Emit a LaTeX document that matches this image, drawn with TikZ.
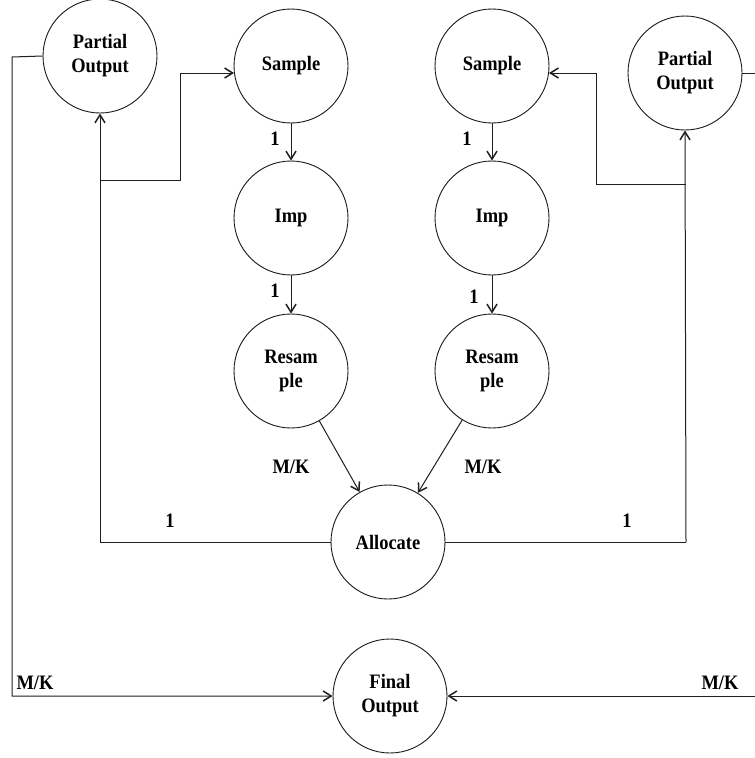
\documentclass[tikz,border=0pt]{standalone}
\usepackage{fontspec}
\setmainfont{Liberation Serif}[FakeStretch=0.9]
\usetikzlibrary{arrows.meta}
\begin{document}
\begin{tikzpicture}[x=1pt,y=-1pt,
  proc/.style={circle,draw=black!90,line width=0.9pt,minimum size=114pt,inner sep=0pt,
    align=center,font=\fontsize{20.5}{24}\selectfont\bfseries},
  flow/.style={draw=black!88,line width=1pt},
  arr/.style={flow,-{Straight Barb[length=8pt,width=10pt,line width=1.5pt]}},
  lbl/.style={font=\fontsize{20.5}{24}\selectfont\bfseries,inner sep=0pt}]
\clip (0,0) rectangle (755,758);
\fill[white] (0,0) rectangle (755,758);
% processing nodes
\node[proc] (poL) at (100,56) {Partial\\Output};
\node[proc] (saL) at (291,66) {Sample};
\node[proc] (imL) at (291,218) {Imp};
\node[proc] (reL) at (291,371) {Resam\\ple};
\node[proc] (saR) at (492,66) {Sample};
\node[proc] (imR) at (492,218) {Imp};
\node[proc] (reR) at (492,371) {Resam\\ple};
\node[proc] (poR) at (685,73) {Partial\\Output};
\node[proc] (al) at (388,542) {Allocate};
\node[proc] (fo) at (390,696) {Final\\Output};
% junctions
\coordinate (jL) at (100,180);
\coordinate (jR) at (686,184);
\coordinate (aL) at (100,542);
\coordinate (aR) at (686,542);
\coordinate (oL) at (12,57);
\coordinate (oR) at (770,73);
% vertical chains
\draw[arr] (saL) -- (imL);
\draw[arr] (imL) -- (reL);
\draw[arr] (saR) -- (imR);
\draw[arr] (imR) -- (reR);
\draw[arr] (reL) -- (al);
\draw[arr] (reR) -- (al);
% allocate feedback to partial outputs
\draw[flow] (al.west) -- (aL);
\draw[arr] (aL) -- (poL.south);
\draw[flow] (al.east) -- (aR);
\draw[arr] (aR) -- (poR.south);
% feedback to samplers
\draw[arr] (jL) -- (180,180) |- (saL.187);
\draw[arr] (jR) -- (596,184) |- (saR.-7);
% partial outputs to final output
\draw[arr] (poL.west) -- (oL) |- (fo.west);
\draw[arr] (poR.east) -- (oR) |- (fo.east);
% labels
\node[lbl] at (275,139) {1};
\node[lbl] at (275,291) {1};
\node[lbl] at (467,139) {1};
\node[lbl] at (474,297) {1};
\node[lbl] at (291,467) {M/K};
\node[lbl] at (483,467) {M/K};
\node[lbl] at (170,521) {1};
\node[lbl] at (627,521) {1};
\node[lbl] at (35,683) {M/K};
\node[lbl] at (720,683) {M/K};
\end{tikzpicture}
\end{document}
